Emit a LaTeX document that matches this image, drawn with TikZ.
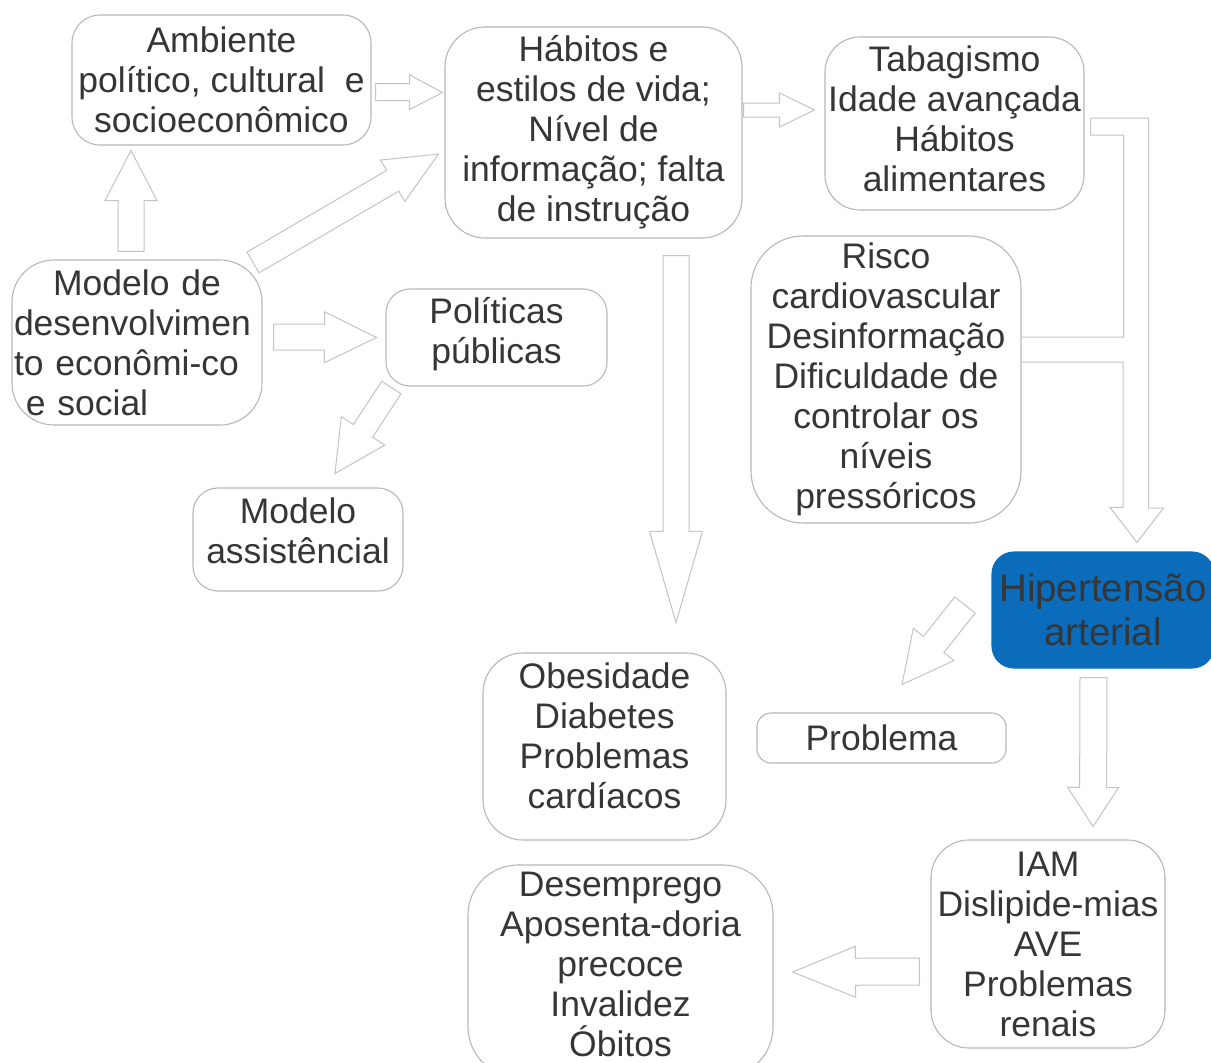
\documentclass[tikz,border=0pt]{standalone}
\usepackage{fontspec}
\setmainfont{Liberation Sans}
\usetikzlibrary{calc}
\definecolor{txt}{HTML}{363636}
\definecolor{edge}{HTML}{B8B8B8}
\definecolor{arw}{HTML}{C4C4C4}
\definecolor{hipblue}{HTML}{0A6CBA}
\newcommand{\fs}{\fontsize{35.5}{40}\selectfont}
\newcommand{\blockarr}[5]{%
  \coordinate (nk) at ($(#2)!#5!(#1)$);
  \draw[fat] ($(#1)!#3/2!90:(#2)$) -- ($(nk)!#3/2!90:(#2)$) -- ($(nk)!#4/2!90:(#2)$) -- (#2)
    -- ($(nk)!#4/2!-90:(#2)$) -- ($(nk)!#3/2!-90:(#2)$) -- ($(#1)!#3/2!-90:(#2)$) -- cycle;}

\begin{document}
\begin{tikzpicture}[x=1pt,y=-1pt,
  box/.style={draw=edge,line width=1.1pt,rounded corners=#1,align=center,text=txt,font=\fs,inner sep=0pt},
  box/.default=30pt,
  fat/.style={draw=arw,line width=1pt,fill=white,line join=miter}]
\fill[white] (0,0) rectangle (1211,1063);
\useasboundingbox (0,0) rectangle (1211,1063);
\node[box=28pt,minimum width=299pt,minimum height=130pt] (amb) at (221.5,80) {Ambiente\\político, cultural~\ e\\socioeconômico};
\node[box=40pt,minimum width=297pt,minimum height=211pt] (hab) at (593.5,132.5) {Hábitos e\\estilos de vida;\\Nível de\\informação; falta\\de instrução};
\node[box=35pt,minimum width=259pt,minimum height=173pt,text depth=10pt] (tab) at (954.5,123.5) {Tabagismo\\Idade avançada\\Hábitos\\alimentares};
\node[box=42pt,align=left,text width=246pt,inner xsep=2pt,minimum height=165pt] (mod) at (137,342.5) {\hfill Modelo de\hfill\mbox{}\\\mbox{desenvolvimen}\\to econômi-co\\\ e social};
\node[box=24pt,minimum width=221pt,minimum height=97pt,text depth=14pt] (pol) at (496.5,337.5) {Políticas\\públicas};
\node[box=25pt,minimum width=210pt,minimum height=103pt,text depth=18pt] (assist) at (298,539.5) {Modelo\\assistêncial};
\node[box=52pt,minimum width=270pt,minimum height=287pt] (risco) at (886,379.5) {Risco\\cardiovascular\\Desinformação\\Dificuldade de\\controlar os\\níveis\\pressóricos};
\node[box=22pt,fill=hipblue,draw=hipblue,font=\fontsize{38.5}{44}\selectfont,minimum width=222pt,minimum height=116pt] (hip) at (1103,610) {Hipertensão\\arterial};
\node[box=14pt,minimum width=249pt,minimum height=50pt] (prob) at (881.5,738) {Problema};
\node[box=40pt,minimum width=243pt,minimum height=187pt,text depth=22pt] (obes) at (604.5,746.5) {Obesidade\\Diabetes\\Problemas\\cardíacos};
\node[box=38pt,minimum width=234pt,minimum height=208pt] (iam) at (1048,944) {IAM\\Dislipide-mias\\AVE\\Problemas\\renais};
\node[box=50pt,minimum width=305pt,minimum height=212pt,text depth=14pt] (desemp) at (620.5,971) {Desemprego\\Aposenta-doria\\precoce\\Invalidez\\Óbitos};

\coordinate (t1) at ($(amb.east)+(4,12)$); \coordinate (h1) at ($(hab.west)+(-2,-40)$);
\blockarr{t1}{h1}{17pt}{35pt}{33pt}
\coordinate (t2) at ($(mod.north)+(-6,-8)$); \coordinate (h2) at ($(amb.south)+(-90.5,5)$);
\blockarr{t2}{h2}{26pt}{52pt}{50pt}
\coordinate (t3) at ($(mod.north east)+(-9.5,3)$); \coordinate (h3) at ($(hab.west)+(-6,21.5)$);
\blockarr{t3}{h3}{24pt}{48pt}{53pt}
\coordinate (t4) at ($(mod.east)+(11,-5.5)$); \coordinate (h4) at ($(pol.west)+(-9,0)$);
\blockarr{t4}{h4}{26pt}{51pt}{52pt}
\coordinate (t5) at ($(pol.south west)+(6,1)$); \coordinate (h5) at ($(assist.north)+(37,-14)$);
\blockarr{t5}{h5}{23pt}{52pt}{51pt}
\coordinate (t6) at ($(hab.south)+(82.5,17)$); \coordinate (h6) at ($(obes.north)+(71.5,-30)$);
\blockarr{t6}{h6}{26pt}{53pt}{91pt}
\coordinate (t7) at ($(hab.east)+(1,-22.5)$); \coordinate (h7) at ($(tab.west)+(-10,-13.5)$);
\blockarr{t7}{h7}{14pt}{34pt}{35pt}
\coordinate (t8) at ($(hip.west)+(-26.5,-5)$); \coordinate (h8) at ($(prob.north)+(20.5,-28)$);
\blockarr{t8}{h8}{26pt}{52pt}{51pt}
\coordinate (t9) at ($(hip.south)+(-9.5,9)$); \coordinate (h9) at ($(iam.north)+(45,-13)$);
\blockarr{t9}{h9}{27pt}{51pt}{39pt}
\coordinate (t10) at ($(iam.west)+(-11,27.5)$); \coordinate (h10) at ($(desemp.east)+(19,1)$);
\blockarr{t10}{h10}{27pt}{51pt}{63pt}

\coordinate (k0) at ($(tab.east)+(6,-5.5)$);
\coordinate (k1) at ($(risco.east)+(0,-42.5)$);
\coordinate (k2) at ($(risco.east)+(0,-17.5)$);
\coordinate (k3) at ($(hip.north)+(34,-9)$);
\draw[fat,fill=none] (k1) -- ++(102,0) |- ($(k0)+(0,17)$) -- (k0) -- ++(58,0) -- ++(0,390) -- ++(15,0)
  -- (k3) -- ++(-27,-35) -- ++(13,0) |- (k2);
\end{tikzpicture}
\end{document}
